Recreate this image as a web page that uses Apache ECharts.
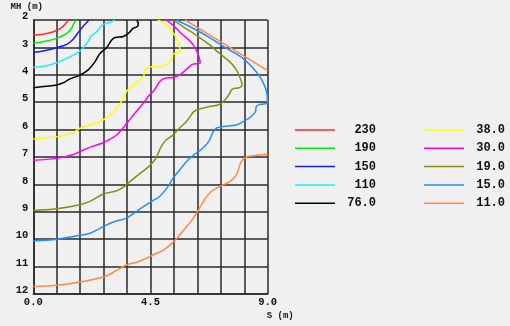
<!DOCTYPE html>
<html>
<head>
<meta charset="utf-8">
<script src="https://cdn.jsdelivr.net/npm/echarts@6/dist/echarts.min.js"></script>
<style>
html,body{margin:0;padding:0;background:#f0f0f0;}
#c{width:510px;height:326px;}
</style>
</head>
<body>
<div id="c"></div>
<script>
// Tick labels
const xTickLabels = ['0.0', '4.5', '9.0'];
const xTickValues = [0, 4.5, 9];
const yTicks = [2, 3, 4, 5, 6, 7, 8, 9, 10, 11, 12];

// Contour levels (legend names)
const levelsLeft = ['230', '190', '150', '110', '76.0'];
const levelsRight = ['38.0', '30.0', '19.0', '15.0', '11.0'];

// Contour lines as [S, MH] points
const c230 = [[0,2.56],[0.38,2.52],[0.77,2.43],[1.09,2.28],[1.25,2.12],[1.35,2.0]];
const c190 = [[0,2.84],[0.38,2.79],[0.9,2.67],[1.28,2.49],[1.47,2.30],[1.56,2.12],[1.65,2.0]];
const c150 = [[0,3.18],[0.38,3.13],[0.9,3.01],[1.28,2.89],[1.54,2.69],[1.73,2.45],[1.92,2.22],[2.14,2.0]];
const c110 = [[0,3.73],[0.51,3.67],[0.9,3.56],[1.28,3.40],[1.66,3.22],[1.92,3.01],[2.11,2.77],[2.24,2.57],[2.43,2.43],[2.56,2.28],[2.69,2.16],[2.94,2.09],[3.12,2.0]];
const c76 = [[0,4.47],[0.51,4.42],[0.9,4.37],[1.15,4.29],[1.41,4.15],[1.79,4.01],[2.11,3.82],[2.37,3.52],[2.56,3.22],[2.82,3.0],[3.01,2.73],[3.14,2.64],[3.46,2.60],[3.65,2.49],[3.84,2.30],[4.0,2.24],[4.03,2.12],[3.97,2.0]];
const c38 = [[0,6.34],[0.64,6.29],[1.15,6.22],[1.54,6.10],[1.79,5.95],[2.18,5.83],[2.56,5.71],[2.94,5.47],[3.20,5.22],[3.46,4.86],[3.59,4.59],[3.84,4.37],[4.10,4.19],[4.23,4.07],[4.29,3.82],[4.42,3.73],[4.67,3.70],[4.85,3.70],[5.10,3.64],[5.33,3.42],[5.36,3.25],[5.64,3.16],[5.61,2.97],[5.55,2.73],[5.38,2.49],[5.17,2.24],[4.91,2.06],[4.78,2.0]];
const c30 = [[0,7.12],[0.9,7.05],[1.47,6.93],[1.86,6.77],[2.24,6.62],[2.63,6.50],[3.07,6.28],[3.26,6.14],[3.59,5.77],[3.84,5.47],[4.22,5.04],[4.46,4.74],[4.65,4.55],[4.85,4.25],[5.04,4.13],[5.36,4.10],[5.61,4.01],[5.81,3.86],[6.0,3.70],[6.10,3.62],[6.41,3.56],[6.36,3.34],[6.25,3.09],[6.13,2.89],[5.93,2.69],[5.68,2.49],[5.42,2.24],[5.17,2.04],[5.08,2.0]];
const c19 = [[0,8.95],[0.9,8.89],[1.79,8.74],[2.18,8.62],[2.69,8.35],[3.2,8.23],[3.46,8.10],[3.71,7.90],[4.10,7.60],[4.42,7.36],[4.67,7.10],[4.78,6.90],[4.91,6.62],[5.10,6.38],[5.36,6.20],[5.61,5.95],[5.87,5.71],[6.06,5.47],[6.15,5.35],[6.38,5.25],[6.77,5.16],[7.15,5.08],[7.41,4.86],[7.54,4.68],[7.64,4.52],[7.92,4.47],[8.02,4.37],[7.92,4.07],[7.80,3.82],[7.54,3.52],[7.15,3.22],[6.77,2.91],[6.25,2.55],[5.74,2.24],[5.38,2.0]];
const c15 = [[0,10.06],[0.9,10.0],[1.66,9.88],[2.18,9.78],[2.69,9.54],[3.07,9.37],[3.59,9.22],[3.97,8.98],[4.35,8.74],[4.67,8.55],[4.85,8.44],[5.17,8.08],[5.36,7.78],[5.61,7.48],[5.93,7.12],[6.19,6.90],[6.38,6.78],[6.57,6.62],[6.77,6.38],[6.90,6.08],[7.02,5.95],[7.28,5.89],[7.79,5.83],[8.10,5.69],[8.36,5.53],[8.53,5.35],[8.56,5.16],[8.69,5.08],[8.99,5.02],[8.98,4.74],[8.81,4.25],[8.56,3.89],[8.05,3.40],[7.41,3.03],[6.77,2.64],[6.13,2.30],[5.49,2.0]];
const c11Low = [[0,11.73],[0.9,11.68],[1.79,11.56],[2.69,11.38],[3.2,11.14],[3.59,10.93],[3.97,10.84],[4.35,10.69],[4.67,10.54],[4.97,10.42],[5.42,10.06],[5.74,9.70],[6.06,9.34],[6.32,8.98],[6.57,8.56],[6.83,8.26],[7.15,8.08],[7.54,7.90],[7.79,7.66],[7.98,7.18],[8.17,7.0],[8.56,6.94],[9.0,6.90]];
const c11High = [[5.83,2.0],[9.0,3.85]];

const colors = {
  '230': '#ff2a2a', '190': '#00ee00', '150': '#1a1aff', '110': '#22f0f0', '76.0': '#000000',
  '38.0': '#ffff00', '30.0': '#ff00ff', '19.0': '#8c8c10', '15.0': '#1e90ff', '11.0': '#ff8a4c'
};

const seriesDefs = [
  ['230', c230], ['190', c190], ['150', c150], ['110', c110], ['76.0', c76],
  ['38.0', c38], ['30.0', c30], ['19.0', c19], ['15.0', c15], ['11.0', c11Low], ['11.0', c11High]
];

const FONT = 'Liberation Mono';
const gridLine = { color: '#2a2a2a', width: 1.5 };

const chart = echarts.init(document.getElementById('c'), null, { renderer: 'canvas' });

function legendFor(names, left) {
  return {
    data: names,
    orient: 'vertical',
    left: left,
    top: 123,
    padding: 0,
    icon: 'rect',
    itemWidth: 40,
    itemHeight: 1.5,
    itemGap: 4.3,
    formatter: n => (n.length < 4 ? '  ' : ' ') + n,
    textStyle: { fontFamily: FONT, fontWeight: 'bold', fontSize: 12, lineHeight: 14, color: '#111' },
    selectedMode: false
  };
}

chart.setOption({
  backgroundColor: '#f0f0f0',
  animation: false,
  grid: { left: 33.3, right: 242.3, top: 20, bottom: 32, containLabel: false },
  legend: [legendFor(levelsLeft, 295), legendFor(levelsRight, 424)],
  xAxis: {
    type: 'value', min: 0, max: 9, interval: 0.9,
    name: 'S (m)', nameLocation: 'end', nameGap: -1,
    nameTextStyle: { fontFamily: FONT, fontWeight: 'bold', fontSize: 9, color: '#111', align: 'left', verticalAlign: 'top', padding: [17, 0, 0, 0] },
    axisLine: { show: true, lineStyle: gridLine },
    axisTick: { show: false },
    splitLine: { show: true, lineStyle: gridLine },
    axisLabel: {
      fontFamily: FONT, fontWeight: 'bold', fontSize: 10.5, color: '#111', margin: 3,
      formatter: v => {
        for (let i = 0; i < xTickValues.length; i++) {
          if (Math.abs(v - xTickValues[i]) < 1e-6) return xTickLabels[i];
        }
        return '';
      }
    }
  },
  yAxis: {
    type: 'value', min: yTicks[0], max: yTicks[yTicks.length - 1], interval: 1, inverse: true,
    name: 'MH (m)', nameLocation: 'start', nameGap: 1,
    nameTextStyle: { fontFamily: FONT, fontWeight: 'bold', fontSize: 9, color: '#111', align: 'center', padding: [0, 13, 0, 0] },
    axisLine: { show: true, lineStyle: gridLine },
    axisTick: { show: false },
    splitLine: { show: true, lineStyle: gridLine },
    axisLabel: {
      fontFamily: FONT, fontWeight: 'bold', fontSize: 10.5, color: '#111', margin: 5,
      verticalAlign: 'bottom', lineHeight: 7,
      formatter: v => String(v)
    }
  },
  series: seriesDefs.map(([name, pts]) => ({
    name: name,
    type: 'line',
    data: pts,
    smooth: 0.35,
    symbol: 'none',
    clip: true,
    color: colors[name],
    lineStyle: { color: colors[name], width: 1.5 },
    z: 3
  }))
});
</script>
</body>
</html>
